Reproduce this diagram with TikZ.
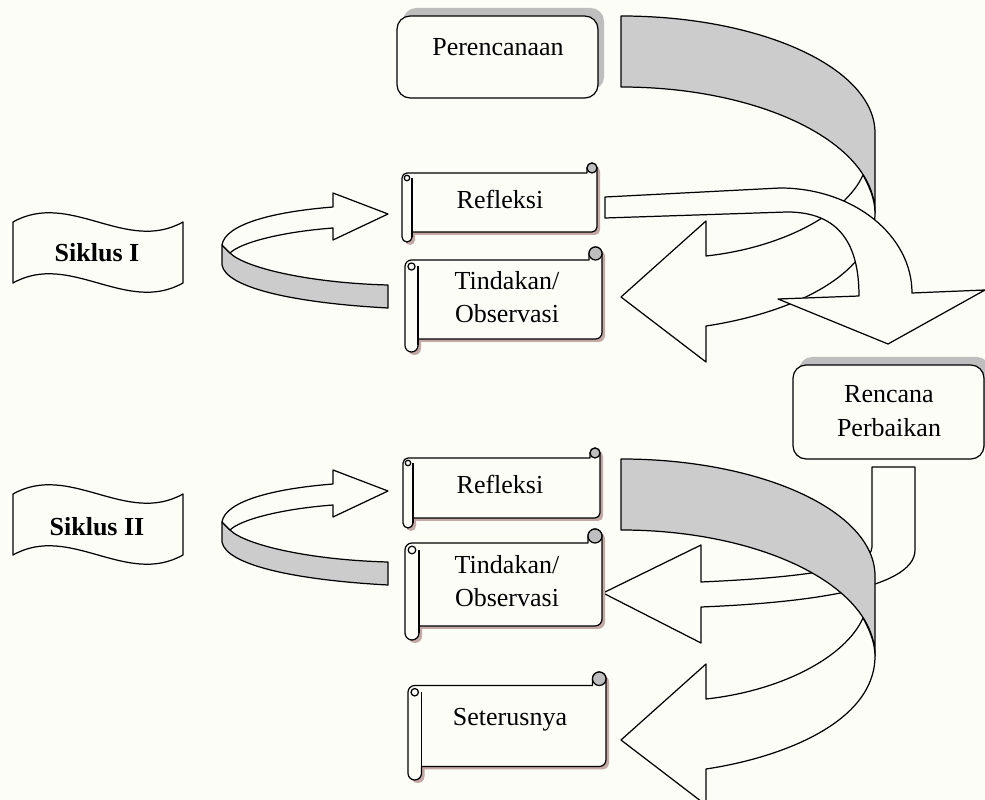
\documentclass[tikz,border=0pt]{standalone}
\usepackage{fontspec}
\setmainfont{Liberation Serif}
\definecolor{paper}{RGB}{253,253,248}
\definecolor{bandgrey}{RGB}{204,204,204}
\definecolor{boxshadow}{RGB}{190,190,190}
\definecolor{scrollshadow}{RGB}{196,168,166}
\definecolor{curlgrey}{RGB}{190,190,190}
\tikzset{
  edgeline/.style={draw=black, line width=0.7pt, line join=round},
  whiteband/.style={edgeline, fill=paper},
  greyband/.style={edgeline, fill=bandgrey},
  roundbox/.style={edgeline, fill=paper, rounded corners=7.5pt},
  txt/.style={inner sep=0pt, align=center, font=\fontsize{14.8}{19}\selectfont},
  cyctxt/.style={txt, font=\fontsize{14.8}{19}\selectfont\bfseries}
}
\newcommand{\drawscroll}[5]{%
  \pgfmathsetmacro\rollR{#5/2*0.5691}%
  \pgfmathsetmacro\rollXa{#1+#5}%
  \pgfmathsetmacro\rollXm{#1+#5/2}%
  \pgfmathsetmacro\rollXq{#3-#5}%
  \pgfmathsetmacro\rollXn{#3-#5/2}%
  \pgfmathsetmacro\rollYt{#2+#5}%
  \pgfmathsetmacro\rollYb{#4-#5}%
  \pgfmathsetmacro\rollYc{#2+#5+#5/2}%
  \pgfmathsetmacro\rollYd{#4-#5/2}%
  \pgfmathsetmacro\rollYe{#2+#5/2}%
  \def\scrollpath{(#1,\rollYc) -- (#1,\rollYd) arc[start angle=180,end angle=360,radius=\rollR pt]
    -- (\rollXa,\rollYb) -- (\rollXn,\rollYb) arc[start angle=270,end angle=360,radius=\rollR pt]
    -- (#3,\rollYe) arc[start angle=0,end angle=180,radius=\rollR pt]
    -- (\rollXq,\rollYt) -- (\rollXm,\rollYt) arc[start angle=90,end angle=180,radius=\rollR pt] -- cycle}%
  \fill[scrollshadow, shift={(3,3)}] \scrollpath;
  \draw[whiteband] \scrollpath;
  \draw[edgeline] (\rollXa,\rollYc) -- (\rollXa,\rollYd);
  \draw[edgeline, fill=paper] (\rollXm,\rollYc) circle[radius=0.55*\rollR pt];
  \draw[edgeline, fill=curlgrey] (\rollXn,\rollYe) circle[radius=\rollR pt];
}
\newcommand{\bigturn}[1]{%
  \begin{scope}[shift={(0,#1)}]
    \draw[greyband] (621,16) .. controls (761,16) and (875,68) .. (875,133) -- (875,213)
      .. controls (875,143) and (761,87) .. (621,87) -- cycle;
    \draw[whiteband] (875,213) .. controls (875,280) and (780,315) .. (706,326) -- (706,362)
      -- (621,297) -- (706,221) -- (706,256) .. controls (780,248) and (845,215) .. (863,175)
      .. controls (869,186) and (875,199) .. (875,213) -- cycle;
  \end{scope}}
\newcommand{\smallturn}[1]{%
  \begin{scope}[shift={(0,#1)}]
    \draw[greyband] (222,245) -- (222,265) .. controls (226,288) and (295,303) .. (388,308)
      -- (388,285) .. controls (310,283) and (245,268) .. (230,253) -- cycle;
    \draw[whiteband] (222,245) .. controls (225,225) and (270,212) .. (333,207) -- (333,193)
      -- (388,214) -- (333,240) -- (333,228) .. controls (280,232) and (240,243) .. (230,253) -- cycle;
  \end{scope}}
\newcommand{\wavebanner}[1]{%
  \draw[whiteband, shift={(0,#1)}] (13,222) .. controls (70,190) and (126,254) .. (183,222)
    -- (183,283) .. controls (126,315) and (70,251) .. (13,283) -- cycle;}
\begin{document}
\begin{tikzpicture}[x=0.02cm, y=-0.02cm]
  \useasboundingbox (0,0) rectangle (985,800);
  \clip (0,0) rectangle (985,800);
  \fill[paper] (0,0) rectangle (985,800);

  \fill[boxshadow, rounded corners=7.5pt] (403,8) rectangle (604,90);
  \draw[roundbox] (397,16) rectangle (598,98);
  \node[txt] (plan) at (498,47) {Perencanaan};
  \fill[boxshadow, rounded corners=7.5pt] (799,357) rectangle (990,451);
  \draw[roundbox] (793,365) rectangle (984,459);
  \node[txt] (fix) at (889,411) {Rencana\\Perbaikan};

  \bigturn{0}
  \draw[whiteband] (605,197) -- (780,188) .. controls (853,188) and (912,235) .. (912,293)
    -- (985,290) -- (888,344) -- (778,299) -- (859,296) .. controls (859,245) and (840,212) .. (787,212)
    -- (605,218) -- cycle;
  \draw[whiteband] (872,467) -- (915,467) -- (915,550) .. controls (915,590) and (800,603) .. (701,607)
    -- (701,643) -- (603,593) -- (701,545) -- (701,582) .. controls (790,578) and (872,570) .. (872,547) -- cycle;
  \bigturn{443}

  \wavebanner{0}
  \wavebanner{272}
  \smallturn{0}
  \smallturn{277}
  \node[cyctxt] (cyc1) at (97,253) {Siklus I};
  \node[cyctxt] (cyc2) at (97,527) {Siklus II};

  \drawscroll{402}{163}{597}{242}{10}
  \drawscroll{405}{247}{602}{352}{13}
  \drawscroll{403}{448}{600}{528}{10}
  \drawscroll{405}{529}{602}{640}{14}
  \drawscroll{408}{672}{606}{780}{13.5}
  \node[txt] (refl1) at (500,199) {Refleksi};
  \node[txt] (act1) at (507,297) {Tindakan/\\Observasi};
  \node[txt] (refl2) at (500,484) {Refleksi};
  \node[txt] (act2) at (507,581) {Tindakan/\\Observasi};
  \node[txt] (next) at (510,720) {Seterusnya};
\end{tikzpicture}
\end{document}
